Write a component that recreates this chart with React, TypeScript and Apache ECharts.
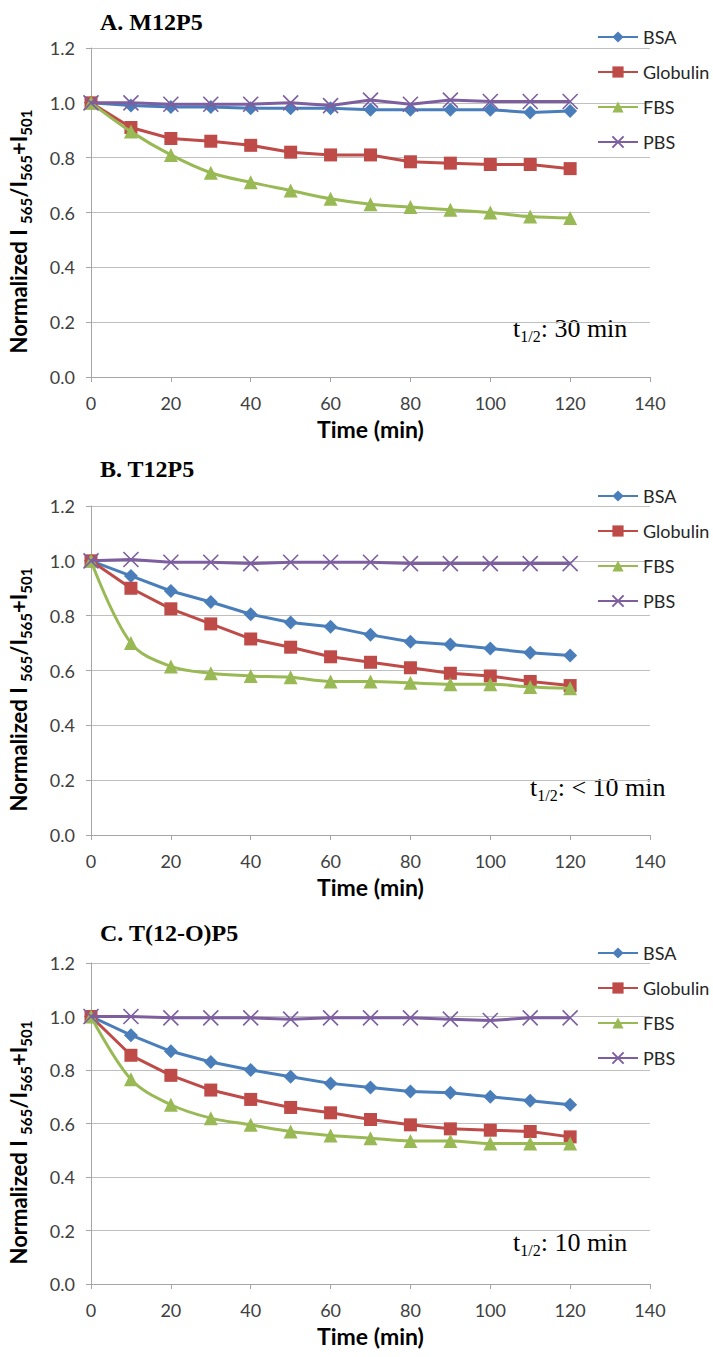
import React, { useEffect, useRef } from "react";
import * as echarts from "echarts";

const times = [0, 10, 20, 30, 40, 50, 60, 70, 80, 90, 100, 110, 120];
const seriesNames = ["BSA", "Globulin", "FBS", "PBS"];
const panelTitles = ["A. M12P5", "B. T12P5", "C. T(12-O)P5"];
const halfLifeTexts = ["30 min", "< 10 min", "10 min"];
const yTicks = [0, 0.2, 0.4, 0.6, 0.8, 1.0, 1.2];
const xTicks = [0, 20, 40, 60, 80, 100, 120, 140];

// Panel A: M12P5
const aBSA = [1.0, 0.99, 0.985, 0.985, 0.98, 0.98, 0.98, 0.975, 0.975, 0.975, 0.975, 0.965, 0.97];
const aGlobulin = [1.0, 0.91, 0.87, 0.86, 0.845, 0.82, 0.81, 0.81, 0.785, 0.78, 0.775, 0.775, 0.76];
const aFBS = [1.0, 0.895, 0.81, 0.745, 0.71, 0.68, 0.65, 0.63, 0.62, 0.61, 0.6, 0.585, 0.58];
const aPBS = [1.0, 1.0, 0.995, 0.995, 0.995, 1.0, 0.99, 1.01, 0.995, 1.01, 1.005, 1.005, 1.005];

// Panel B: T12P5
const bBSA = [1.0, 0.945, 0.89, 0.85, 0.805, 0.775, 0.76, 0.73, 0.705, 0.695, 0.68, 0.665, 0.655];
const bGlobulin = [1.0, 0.9, 0.825, 0.77, 0.715, 0.685, 0.65, 0.63, 0.61, 0.59, 0.58, 0.56, 0.545];
const bFBS = [1.0, 0.7, 0.615, 0.59, 0.58, 0.575, 0.56, 0.56, 0.555, 0.55, 0.55, 0.54, 0.535];
const bPBS = [1.0, 1.005, 0.995, 0.995, 0.99, 0.995, 0.995, 0.995, 0.99, 0.99, 0.99, 0.99, 0.99];

// Panel C: T(12-O)P5
const cBSA = [1.0, 0.93, 0.87, 0.83, 0.8, 0.775, 0.75, 0.735, 0.72, 0.715, 0.7, 0.685, 0.67];
const cGlobulin = [1.0, 0.855, 0.78, 0.725, 0.69, 0.66, 0.64, 0.615, 0.595, 0.58, 0.575, 0.57, 0.55];
const cFBS = [1.0, 0.765, 0.67, 0.62, 0.595, 0.57, 0.555, 0.545, 0.535, 0.535, 0.525, 0.525, 0.525];
const cPBS = [1.0, 1.0, 0.995, 0.995, 0.995, 0.99, 0.995, 0.995, 0.995, 0.99, 0.985, 0.995, 0.995];

const panels = [
  [aBSA, aGlobulin, aFBS, aPBS],
  [bBSA, bGlobulin, bFBS, bPBS],
  [cBSA, cGlobulin, cFBS, cPBS],
];

const colors = ["#4a7ebb", "#be4b48", "#98b954", "#7d5fa0"];
const symbols = ["diamond", "rect", "triangle", "path://M0,0L10,10M10,0L0,10"];
const symbolSizes = [14, 13, 14, 15];

const grids = [
  { left: 91, top: 48, width: 559, height: 329 },
  { left: 91, top: 506, width: 559, height: 329 },
  { left: 91, top: 963, width: 559, height: 321 },
];
const titleY = [22, 469, 933];
const legendTop = [27, 486, 943];
const halfLifePos = [
  [513, 328],
  [530, 787],
  [513, 1242],
];

export default function App() {
  const ref = useRef<HTMLDivElement>(null);
  useEffect(() => {
    if (!ref.current) return;
    const chart = echarts.init(ref.current, undefined, { renderer: "svg" });
    const axisGray = "#a6a6a6";
    const xAxes = grids.map((_, i) => ({
      type: "value",
      gridIndex: i,
      min: xTicks[0],
      max: xTicks[xTicks.length - 1],
      interval: 20,
      axisLine: { show: true, lineStyle: { color: axisGray, width: 1 } },
      axisTick: { show: true, length: 5, lineStyle: { color: axisGray } },
      axisLabel: { fontSize: 18, color: "#404040", margin: 17, fontFamily: "Lato" },
      splitLine: { show: false },
      name: "Time (min)",
      nameLocation: "middle",
      nameGap: 40,
      nameTextStyle: { fontSize: 23, fontWeight: "bold", color: "#000", fontFamily: "Lato" },
    }));
    const yAxes = grids.map((_, i) => ({
      type: "value",
      gridIndex: i,
      min: yTicks[0],
      max: yTicks[yTicks.length - 1],
      interval: 0.2,
      axisLine: { show: true, lineStyle: { color: axisGray, width: 1 } },
      axisTick: { show: true, length: 5, lineStyle: { color: axisGray } },
      axisLabel: {
        fontSize: 18,
        color: "#404040",
        margin: 16,
        fontFamily: "Lato",
        formatter: (v: number) => v.toFixed(1),
      },
      splitLine: { show: true, lineStyle: { color: "#bfbfbf", width: 1 } },
    }));
    const series: any[] = [];
    panels.forEach((vals, p) => {
      vals.forEach((arr, s) => {
        series.push({
          type: "line",
          name: seriesNames[s],
          xAxisIndex: p,
          yAxisIndex: p,
          data: times.map((t, k) => [t, arr[k]]),
          symbol: symbols[s],
          symbolSize: symbolSizes[s],
          smooth: s === 2 ? 0.35 : false,
          lineStyle: { color: colors[s], width: 3 },
          itemStyle: {
            color: s === 3 ? "none" : colors[s],
            borderColor: colors[s],
            borderWidth: s === 3 ? 1.6 : 0,
          },
          z: 2 + s,
        });
      });
    });
    const legends = legendTop.map((top) => ({
      orient: "vertical",
      left: 597,
      top,
      padding: 0,
      itemWidth: 40,
      itemHeight: 14,
      itemGap: 15,
      selectedMode: false,
      textStyle: { fontSize: 18, color: "#262626", fontFamily: "Lato", lineHeight: 20 },
      data: seriesNames,
    }));
    const graphics: any[] = [];
    panelTitles.forEach((t, i) => {
      graphics.push({
        type: "text",
        x: 100,
        y: titleY[i],
        style: {
          text: t,
          fontFamily: "Liberation Serif",
          fontWeight: "bold",
          fontSize: 24,
          fill: "#000",
          verticalAlign: "middle",
        },
      });
      const g = grids[i];
      graphics.push({
        type: "text",
        x: 18,
        y: g.top + g.height / 2 + 19,
        rotation: Math.PI / 2,
        style: {
          text: "Normalized I {s|565}/I{s|565}+I{s|501}",
          fontFamily: "Lato",
          fontWeight: "bold",
          fontSize: 22,
          fill: "#000",
          align: "center",
          verticalAlign: "middle",
          rich: {
            s: { fontFamily: "Lato", fontWeight: "bold", fontSize: 15, verticalAlign: "bottom", lineHeight: 30, fill: "#000" },
          },
        },
      });
      graphics.push({
        type: "text",
        x: halfLifePos[i][0],
        y: halfLifePos[i][1],
        style: {
          text: "t{s|1/2}: " + halfLifeTexts[i],
          fontFamily: "Liberation Serif",
          fontSize: 26,
          fill: "#000",
          verticalAlign: "middle",
          rich: {
            s: { fontFamily: "Liberation Serif", fontSize: 16, verticalAlign: "bottom", lineHeight: 32, fill: "#000" },
          },
        },
      });
    });
    chart.setOption({
      animation: false,
      backgroundColor: "#fff",
      textStyle: { fontFamily: "Lato" },
      grid: grids,
      xAxis: xAxes,
      yAxis: yAxes,
      legend: legends,
      series,
      graphic: graphics,
    });
    return () => chart.dispose();
  }, []);
  return (
    <div
      ref={ref}
      style={{ position: "absolute", left: 0, top: 0, width: 713, height: 1357 }}
    />
  );
}
